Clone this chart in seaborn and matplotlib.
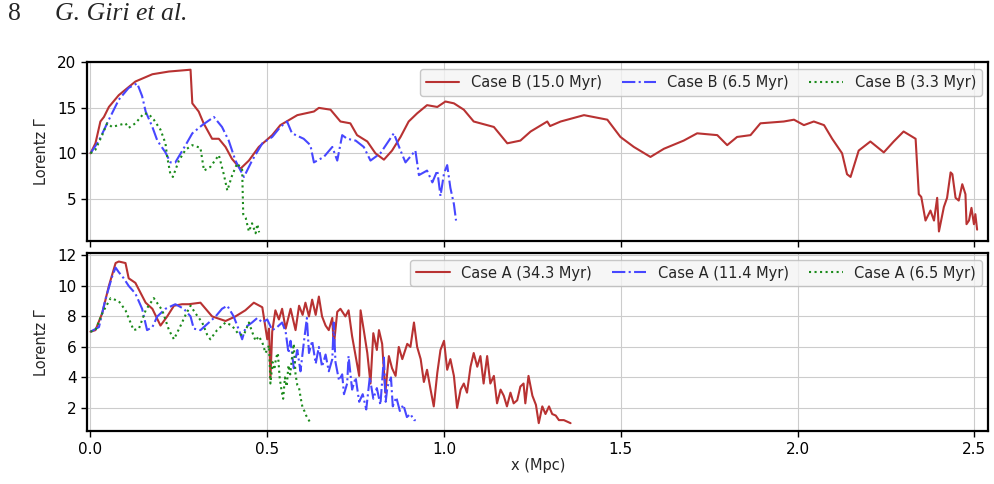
import matplotlib
matplotlib.use("Agg")
import matplotlib.pyplot as plt
import seaborn as sns

# Case B, top panel (x in Mpc, Lorentz factor)
b150_x = [0.0, 0.014, 0.028, 0.038, 0.052, 0.08, 0.127, 0.175, 0.222, 0.283, 0.288, 0.306, 0.32, 0.344,
          0.363, 0.382, 0.40, 0.424, 0.448, 0.476, 0.514, 0.537, 0.585, 0.632, 0.646, 0.679, 0.707, 0.735,
          0.754, 0.783, 0.806, 0.83, 0.853, 0.877, 0.90, 0.924, 0.952, 0.981, 1.004, 1.028, 1.056, 1.084,
          1.141, 1.179, 1.216, 1.245, 1.292, 1.30, 1.33, 1.396, 1.462, 1.499, 1.537, 1.584, 1.622, 1.678,
          1.716, 1.773, 1.801, 1.829, 1.867, 1.895, 1.961, 1.99, 2.018, 2.046, 2.075, 2.098, 2.126, 2.14,
          2.15, 2.173, 2.206, 2.244, 2.272, 2.30, 2.334, 2.343, 2.35, 2.362, 2.376, 2.386, 2.395, 2.40,
          2.414, 2.423, 2.433, 2.438, 2.447, 2.456, 2.466, 2.475, 2.478, 2.485, 2.492, 2.499, 2.503, 2.508]
b150_y = [10.0, 11.1, 13.5, 14.0, 15.1, 16.4, 17.9, 18.7, 19.0, 19.2, 15.5, 14.6, 13.3, 11.6,
          11.6, 10.7, 9.4, 8.3, 9.2, 10.7, 12.0, 13.1, 14.2, 14.6, 15.0, 14.8, 13.5, 13.3,
          12.0, 11.3, 10.0, 9.3, 10.3, 11.8, 13.5, 14.4, 15.3, 15.1, 15.7, 15.5, 14.8, 13.5,
          12.9, 11.1, 11.4, 12.4, 13.5, 13.0, 13.5, 14.2, 13.7, 11.8, 10.7, 9.6, 10.5, 11.4,
          12.2, 12.0, 10.9, 11.8, 12.0, 13.3, 13.5, 13.7, 13.1, 13.5, 13.1, 11.6, 10.0, 7.7,
          7.4, 10.3, 11.3, 10.1, 11.3, 12.4, 11.6, 5.5, 5.2, 2.6, 3.7, 2.6, 5.1, 1.4,
          4.1, 5.1, 7.9, 7.7, 5.1, 4.8, 6.6, 5.5, 2.2, 2.6, 4.0, 2.2, 3.3, 1.6]

b65_x = [0.0, 0.024, 0.052, 0.08, 0.108, 0.132, 0.146, 0.156, 0.175, 0.189, 0.212, 0.226, 0.24, 0.269,
         0.288, 0.316, 0.349, 0.372, 0.391, 0.41, 0.434, 0.457, 0.486, 0.514, 0.537, 0.556, 0.57, 0.603,
         0.622, 0.632, 0.66, 0.684, 0.698, 0.712, 0.726, 0.75, 0.773, 0.792, 0.82, 0.858, 0.877, 0.891,
         0.919, 0.929, 0.952, 0.967, 0.981, 0.99, 1.0, 1.009, 1.018, 1.028, 1.034]
b65_y = [10.0, 11.4, 13.7, 15.9, 17.2, 17.7, 16.3, 14.6, 12.9, 11.4, 10.1, 9.0, 9.0, 10.9,
         12.2, 13.1, 14.0, 12.9, 11.4, 9.2, 7.4, 9.2, 11.1, 11.8, 12.9, 13.5, 12.2, 11.6,
         10.9, 9.0, 9.6, 10.7, 9.2, 12.0, 11.6, 11.4, 10.7, 9.2, 10.0, 12.2, 10.3, 9.0,
         10.3, 7.6, 8.1, 6.8, 8.1, 5.3, 7.8, 8.7, 6.2, 4.4, 2.6]

b33_x = [0.0, 0.014, 0.033, 0.047, 0.061, 0.08, 0.099, 0.108, 0.127, 0.151, 0.165, 0.179, 0.198, 0.212,
         0.217, 0.226, 0.233, 0.25, 0.269, 0.288, 0.311, 0.321, 0.339, 0.363, 0.377, 0.387, 0.40, 0.415,
         0.429, 0.432, 0.439, 0.448, 0.457, 0.467, 0.472, 0.477]
b33_y = [10.0, 10.4, 12.0, 13.3, 12.9, 13.1, 13.3, 12.8, 13.3, 14.4, 14.3, 13.7, 12.6, 11.1,
         9.6, 7.7, 7.4, 9.2, 10.4, 10.9, 10.6, 8.1, 8.5, 9.8, 7.7, 5.9, 7.5, 8.9,
         8.2, 3.3, 2.9, 1.4, 2.3, 1.2, 2.2, 1.3]

# Case A, bottom panel
a343_x = [0.0, 0.014, 0.033, 0.052, 0.071, 0.08, 0.099, 0.108, 0.127, 0.156, 0.175, 0.198, 0.217, 0.236,
          0.259, 0.278, 0.311, 0.344, 0.382, 0.41, 0.438, 0.462, 0.486, 0.50, 0.505, 0.509, 0.514, 0.523,
          0.533, 0.542, 0.552, 0.566, 0.58, 0.59, 0.60, 0.608, 0.618, 0.627, 0.637, 0.646, 0.655, 0.665,
          0.674, 0.684, 0.688, 0.698, 0.707, 0.721, 0.73, 0.74, 0.75, 0.76, 0.764, 0.773, 0.783, 0.792,
          0.80, 0.81, 0.816, 0.825, 0.834, 0.844, 0.853, 0.863, 0.872, 0.882, 0.896, 0.905, 0.915, 0.924,
          0.934, 0.943, 0.952, 0.962, 0.971, 0.981, 0.99, 1.0, 1.009, 1.018, 1.028, 1.037, 1.047, 1.056,
          1.065, 1.075, 1.084, 1.094, 1.103, 1.112, 1.122, 1.131, 1.141, 1.15, 1.16, 1.169, 1.178, 1.188,
          1.197, 1.207, 1.216, 1.225, 1.23, 1.239, 1.25, 1.26, 1.268, 1.278, 1.287, 1.297, 1.306, 1.316,
          1.325, 1.339, 1.358]
a343_y = [7.0, 7.1, 8.2, 10.0, 11.5, 11.6, 11.5, 10.5, 10.2, 8.9, 8.5, 7.4, 8.0, 8.7,
          8.8, 8.8, 8.9, 8.0, 7.7, 8.0, 8.4, 8.9, 8.6, 6.5, 7.2, 3.9, 7.0, 8.4,
          7.8, 8.5, 7.2, 8.5, 7.1, 8.7, 8.1, 8.9, 8.0, 9.1, 8.1, 9.3, 8.0, 7.4,
          7.1, 7.9, 6.0, 8.3, 8.5, 8.0, 8.4, 6.7, 5.4, 4.1, 8.4, 7.1, 5.6, 3.6,
          6.9, 5.8, 7.1, 6.2, 3.0, 5.4, 4.6, 4.1, 6.0, 5.2, 6.2, 6.0, 7.6, 6.0,
          5.2, 3.7, 4.5, 3.2, 2.1, 4.3, 5.8, 6.4, 4.5, 5.2, 4.1, 2.0, 3.2, 3.6,
          3.0, 4.7, 5.6, 4.7, 5.4, 3.6, 5.4, 3.6, 4.1, 2.3, 3.2, 2.8, 2.1, 3.0,
          2.3, 2.5, 3.4, 3.6, 2.3, 4.1, 2.8, 2.2, 1.0, 2.1, 1.6, 2.1, 1.6, 1.5,
          1.2, 1.2, 1.0]

a114_x = [0.0, 0.024, 0.042, 0.061, 0.071, 0.08, 0.094, 0.108, 0.127, 0.146, 0.16, 0.175, 0.189, 0.212,
          0.24, 0.264, 0.283, 0.292, 0.311, 0.335, 0.354, 0.372, 0.387, 0.405, 0.42, 0.429, 0.439, 0.457,
          0.472, 0.486, 0.50, 0.514, 0.528, 0.542, 0.552, 0.56, 0.566, 0.575, 0.585, 0.594, 0.603, 0.612,
          0.618, 0.627, 0.637, 0.646, 0.655, 0.665, 0.674, 0.684, 0.688, 0.693, 0.703, 0.712, 0.717, 0.726,
          0.73, 0.74, 0.75, 0.76, 0.77, 0.78, 0.79, 0.80, 0.81, 0.82, 0.83, 0.835, 0.84, 0.85,
          0.855, 0.865, 0.875, 0.885, 0.895, 0.905, 0.915, 0.92]
a114_y = [7.0, 7.3, 9.1, 10.6, 11.2, 10.9, 10.5, 10.0, 9.5, 8.5, 7.1, 7.3, 8.0, 8.5,
          8.8, 8.5, 8.0, 7.2, 7.1, 7.6, 8.0, 8.5, 8.7, 8.0, 7.1, 6.5, 7.3, 7.6,
          7.9, 7.6, 7.8, 7.1, 7.3, 7.6, 7.0, 5.6, 6.4, 4.6, 5.8, 4.4, 6.2, 7.9,
          5.6, 6.4, 4.9, 6.0, 4.7, 5.5, 4.4, 5.2, 7.6, 5.0, 3.8, 4.2, 2.9, 3.6,
          5.4, 3.2, 4.0, 2.4, 2.9, 1.9, 4.0, 2.6, 3.3, 2.2, 5.3, 2.4, 3.4, 4.0,
          2.1, 2.7, 1.8, 2.2, 1.4, 1.6, 1.2, 1.2]

a65_x = [0.0, 0.014, 0.033, 0.057, 0.08, 0.099, 0.122, 0.137, 0.156, 0.179, 0.203, 0.222, 0.236, 0.255,
         0.269, 0.283, 0.297, 0.316, 0.33, 0.339, 0.358, 0.382, 0.40, 0.42, 0.434, 0.448, 0.457, 0.467,
         0.476, 0.486, 0.495, 0.505, 0.509, 0.515, 0.52, 0.525, 0.53, 0.535, 0.54, 0.545, 0.55, 0.555,
         0.56, 0.565, 0.57, 0.575, 0.58, 0.585, 0.59, 0.595, 0.60, 0.605, 0.61, 0.615, 0.62]
a65_y = [7.0, 7.1, 8.2, 9.2, 9.0, 8.4, 7.1, 7.2, 8.4, 9.2, 8.4, 7.1, 6.5, 7.4,
         8.1, 8.7, 8.2, 7.6, 6.8, 6.5, 7.1, 7.6, 7.4, 6.8, 6.8, 7.6, 7.0, 6.4,
         6.7, 6.3, 5.6, 6.1, 3.6, 5.0, 4.5, 5.3, 5.6, 4.0, 3.2, 2.6, 4.0, 3.4,
         4.8, 4.2, 5.3, 6.2, 4.2, 3.5, 3.3, 2.6, 2.0, 1.8, 1.5, 1.3, 1.1]

top_series = [(b150_x, b150_y, "Case B (15.0 Myr)"),
              (b65_x, b65_y, "Case B (6.5 Myr)"),
              (b33_x, b33_y, "Case B (3.3 Myr)")]
bottom_series = [(a343_x, a343_y, "Case A (34.3 Myr)"),
                 (a114_x, a114_y, "Case A (11.4 Myr)"),
                 (a65_x, a65_y, "Case A (6.5 Myr)")]

styles = [dict(color="#b83232", linestyle="-"),
          dict(color="#4747ff", linestyle="-."),
          dict(color="#1a8a1a", linestyle=":")]

sns.set_style("whitegrid")
plt.rcParams['font.family'] = ['DejaVu Sans']

fig = plt.figure(figsize=(9.95, 4.84), dpi=100)
ax1 = fig.add_axes([0.0874, 0.503, 0.906, 0.368])
ax2 = fig.add_axes([0.0874, 0.109, 0.906, 0.368], sharex=ax1)

for ax, series in [(ax1, top_series), (ax2, bottom_series)]:
    for (xs, ys, lab), st in zip(series, styles):
        sns.lineplot(x=xs, y=ys, ax=ax, label=lab, linewidth=1.5, sort=False, **st)
    ax.set_ylabel("Lorentz Γ", fontsize=10.5, labelpad=6)
    ax.grid(True, color="#cccccc", linewidth=0.8)
    for sp in ax.spines.values():
        sp.set_visible(True)
        sp.set_color("black")
        sp.set_linewidth(1.6)
    ax.tick_params(axis="both", direction="out", length=4, width=1.0, labelsize=11,
                   left=True, bottom=True, colors="black")
    ax.legend(loc="upper right", ncol=3, fontsize=10.5, frameon=True, facecolor="#f4f4f4",
              edgecolor="#bbbbbb", handlelength=2.3, columnspacing=1.4, borderaxespad=0.45)

ax1.set_xlim(-0.01, 2.54)
ax1.set_ylim(0.4, 20.0)
ax1.set_yticks([5, 10, 15, 20])
ax1.tick_params(labelbottom=False)
ax1.set_xlabel("")
ax2.set_ylim(0.47, 12.15)
ax2.set_yticks([2, 4, 6, 8, 10, 12])
ax2.set_xticks([0.0, 0.5, 1.0, 1.5, 2.0, 2.5])
ax2.set_xlabel("x (Mpc)", fontsize=10.5, labelpad=1)

fig.text(0.008, 0.971, "8", fontsize=18.5, family="Liberation Serif", va="center")
fig.text(0.055, 0.971, "G. Giri et al.", fontsize=18.5, family="Liberation Serif",
         style="italic", va="center")

fig.savefig("out.png", dpi=100)
